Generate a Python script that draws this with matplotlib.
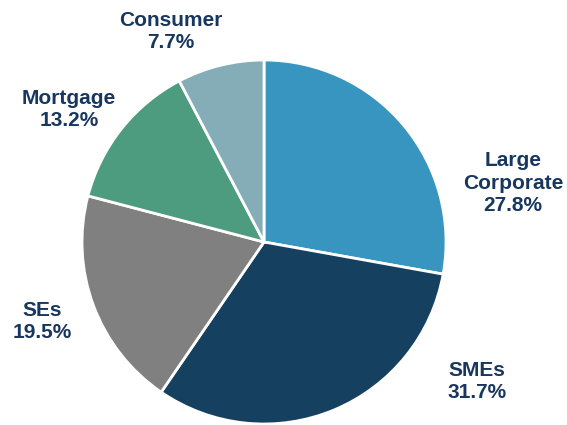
import matplotlib.pyplot as plt

# portfolio split by segment
segments = ["Large\nCorporate", "SMEs", "SEs", "Mortgage", "Consumer"]
shares = [27.8, 31.7, 19.5, 13.2, 7.7]
colors = ["#3795BF", "#15405F", "#808080", "#4E9C80", "#84ADB8"]

# label anchor points in pixel space
label_xy = [(513, 183), (477, 381), (42, 321), (69, 109), (171, 31)]

W, H = 567, 425
fig = plt.figure(figsize=(W / 100, H / 100), dpi=100)
ax = fig.add_axes([0, 0, 1, 1])

cx, cy, r = 264, H - 242, 182
ax.pie(shares, colors=colors, startangle=90, counterclock=False,
       center=(cx, cy), radius=r, normalize=True,
       wedgeprops=dict(edgecolor="white", linewidth=2))

for name, val, (x, y) in zip(segments, shares, label_xy):
    ax.text(x, H - y, f"{name}\n{val:.1f}%", ha="center", va="center",
            fontsize=15, fontweight="bold", color="#17375E",
            family="Liberation Sans", linespacing=1.2)

ax.set_xlim(0, W)
ax.set_ylim(0, H)
ax.set_aspect("equal")
ax.axis("off")

fig.savefig("out.png", dpi=100)
